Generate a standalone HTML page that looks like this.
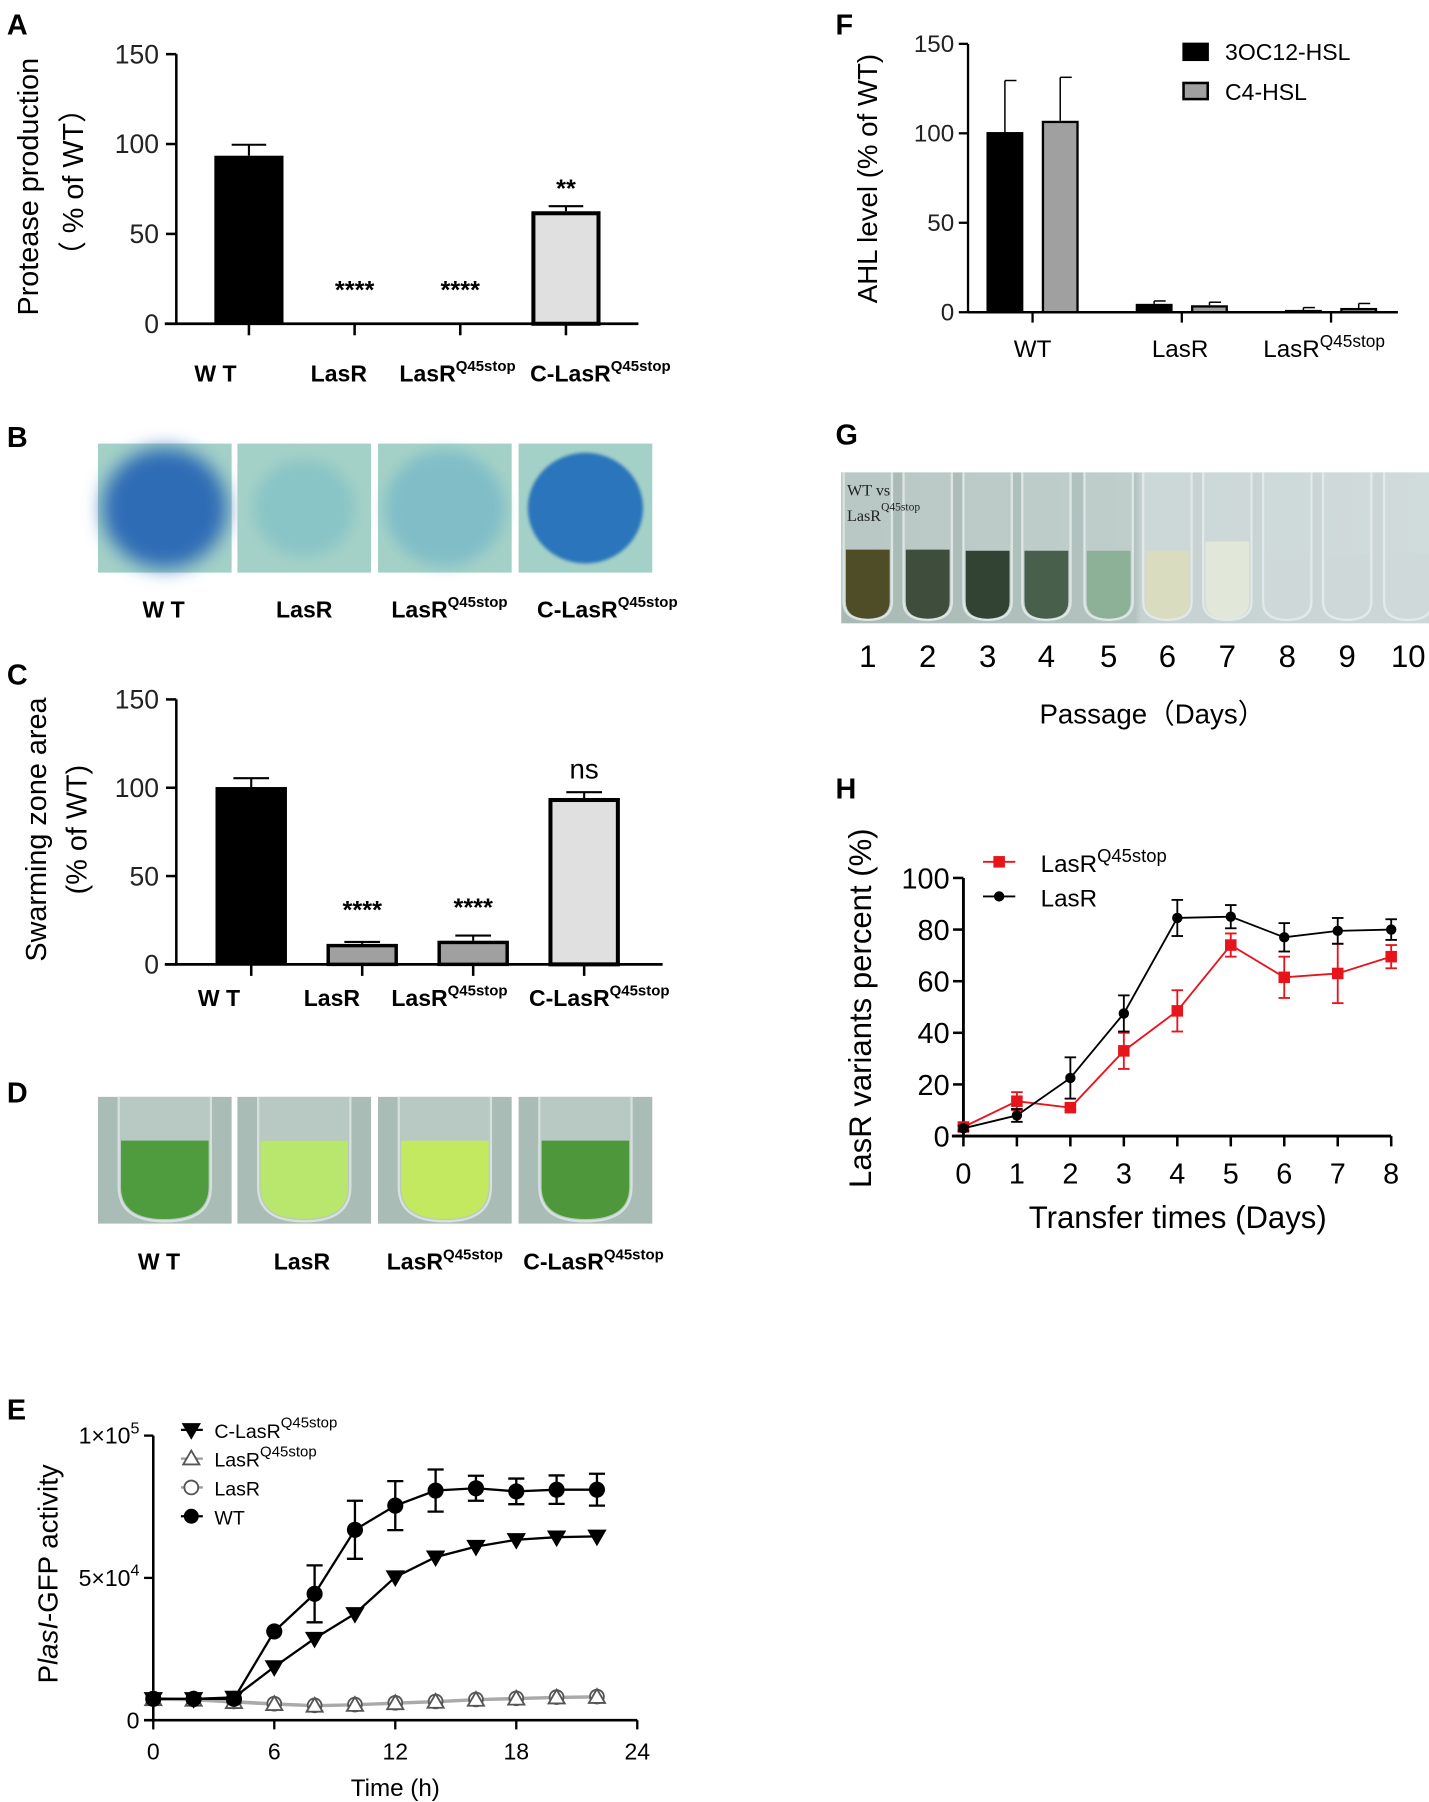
<!DOCTYPE html>
<html><head><meta charset="utf-8"><style>
html,body{margin:0;padding:0;background:#fff;}
svg{display:block;font-family:"Liberation Sans","Noto Sans CJK SC",sans-serif;}
</style></head><body>
<svg id="fig" xmlns="http://www.w3.org/2000/svg" width="1429" height="1802" viewBox="0 0 1240 1564" preserveAspectRatio="none">
<defs>
<filter id="blur6" x="-30%" y="-30%" width="160%" height="160%"><feGaussianBlur stdDeviation="6"/></filter>
<filter id="blur8" x="-30%" y="-30%" width="160%" height="160%"><feGaussianBlur stdDeviation="8"/></filter>
<filter id="blur2"><feGaussianBlur stdDeviation="1.5"/></filter>
<linearGradient id="gphoto" x1="0" x2="1" y1="0" y2="0"><stop offset="0" stop-color="#a9bab5"/><stop offset="0.5" stop-color="#b3c3bf"/><stop offset="0.51" stop-color="#c6d1d1"/><stop offset="1" stop-color="#cdd7d8"/></linearGradient>
</defs>
</svg>
<script>
// ---------- DATA ----------
const aCats=['WT','LasR','LasRQ45stop','C-LasRQ45stop'];
const aVals=[93.5,0,0,62.6];
const aErr=[99.6,0,0,65.4];
const aSig=['','****','****','**'];
const aTicks=[0,50,100,150];

const cVals=[100.4,11.6,13.4,94.2];
const cErr=[105.4,12.7,16.3,97.5];
const cSig=['','****','****','ns'];
const cTicks=[0,50,100,150];

const fCats=['WT','LasR','LasRQ45stop'];
const f3oc12=[100.7,4.7,1.3];
const f3oc12Err=[129.5,6.3,2.6];
const fC4=[107,3.9,2.4];
const fC4Err=[131.3,5.6,4.9];
const fTicks=[0,50,100,150];

const eTimes=[0,2,4,6,8,10,12,14,16,18,20,22];
const eWT=[7500,7500,7500,31200,44400,66900,75400,80700,81500,80400,81000,81000];
const eWTErr=[0,0,0,0,10000,10200,8600,7400,4400,4500,5000,5600];
const eCLasR=[7500,7500,8000,18700,28700,37400,50300,57300,61000,63400,64300,64600];
const eLasRQ=[7300,7100,6300,5600,5000,5300,5900,6400,7100,7500,7900,8100];
const eLasR=[7600,7300,6600,5800,5200,5500,6100,6600,7300,7700,8100,8300];
const eXTicks=[0,6,12,18,24];

const hDays=[0,1,2,3,4,5,6,7,8];
const hLasR=[3,8,22.5,47.5,84.5,85,77,79.5,80];
const hLasRErr=[1,2.5,8,7,7,4.5,5.5,5,4];
const hQ45=[3.5,13.5,11,33,48.5,74,61.5,63,69.5];
const hQ45Err=[1,3.5,1,7,8,4.5,8,11.5,4.5];
const hYTicks=[0,20,40,60,80,100];

const gPassage=[1,2,3,4,5,6,7,8,9,10];

// ---------- HELPERS ----------
const NS='http://www.w3.org/2000/svg';
const svg=document.getElementById('fig');
function mk(tag,attrs,parent){const e=document.createElementNS(NS,tag);for(const k in attrs)e.setAttribute(k,attrs[k]);(parent||svg).appendChild(e);return e;}
function txt(s,attrs,parent){const t=mk('text',attrs,parent);t.textContent=s;return t;}
function supLabel(base,sup,attrs,supSize,parent){
  const t=mk('text',attrs,parent);
  const a=mk('tspan',{},t);a.textContent=base;
  if(sup){const b=mk('tspan',{'font-size':supSize,dy:-9},t);b.textContent=sup;}
  return t;
}
function splitCat(c){const i=c.indexOf('Q45stop');return i>=0?[c.slice(0,i),'Q45stop']:[c.replace('WT','W T'),''];}
function panelLetter(ch,x,y){const t=txt(ch,{x:x,y:y,'font-size':25,'font-weight':'bold'});

}

// ---------- GENERIC BAR PANEL ----------
function barPanel(id,o,vals,errs,sigs,ticks){
  const g=mk('g',{});
  
  
  const Y=v=>o.y0-v*o.k;
  const X=i=>o.tick0+i*o.step;
  const ya=mk('line',{x1:o.ax,y1:Y(ticks[ticks.length-1]),x2:o.ax,y2:o.y0,stroke:'#000','stroke-width':2.2},g);
  
  
  ticks.forEach(t=>{
    mk('line',{x1:o.ax-9,y1:Y(t),x2:o.ax,y2:Y(t),stroke:'#000','stroke-width':2.2},g);
    const tl=txt(String(t),{x:o.ax-15,y:Y(t)+8,'font-size':23,'text-anchor':'end',fill:'#222'},g);
    
    
  });
  vals.forEach((v,i)=>{
    const cx=X(i);
    mk('line',{x1:cx,y1:o.y0,x2:cx,y2:o.y0+10,stroke:'#000','stroke-width':2.2},g);
    if(errs[i]>v){
      mk('line',{x1:cx,y1:Y(v),x2:cx,y2:Y(errs[i]),stroke:'#000','stroke-width':1.8},g);
      mk('line',{x1:cx-o.barW*0.25,y1:Y(errs[i]),x2:cx+o.barW*0.25,y2:Y(errs[i]),stroke:'#000','stroke-width':1.8},g);
    }
    if(v>0){
      const sw=o.strokes[i];
      const b=mk('rect',{x:cx-o.barW/2+sw/2,y:Y(v)+sw/2,width:o.barW-sw,height:Math.max(0,v*o.k-sw/2),fill:o.fills[i],stroke:'#000','stroke-width':sw},g);
      
      
    }
    if(sigs[i]){
      const by=sigs[i]==='ns'?Y(errs[i])-12:Math.min(Y(errs[i])-o.starOff,o.y0-o.starMin);
      const s=txt(sigs[i],{x:cx,y:by,'font-size':sigs[i]==='ns'?24:22,'text-anchor':'middle','font-weight':sigs[i]==='ns'?'normal':'bold'},g);
      
      
    }
  });
  const xa=mk('line',{x1:o.ax-10,y1:o.y0,x2:o.xEnd,y2:o.y0,stroke:'#000','stroke-width':2.4},g);
  
  
  aCats.forEach((c,i)=>{
    const p=splitCat(c);
    const l=supLabel(p[0],p[1],{x:o.labelX[i],y:o.labelY,'font-size':20,'font-weight':'bold','text-anchor':'middle'},13,g);
    
    
  });
  return g;
}

// ---------- PANEL A ----------
panelLetter('A',6,30);
barPanel('protease-chart',{ax:153,y0:281,k:1.56,xEnd:554,tick0:216,step:91.7,barW:60,
  fills:['#000','#999','#999','#e0e0e0'],strokes:[2,3,3,3.5],starOff:8,starMin:22,
  labelX:[187,294,397,521],labelY:331},aVals,aErr,aSig,aTicks);
{const t=txt('Protease production',{x:0,y:0,'font-size':25,'text-anchor':'middle',transform:'translate(33,162) rotate(-90)'});


const t2=txt('（ % of WT）',{x:0,y:0,'font-size':25,'text-anchor':'middle',transform:'translate(72,158) rotate(-90)'});

}

// ---------- PANEL B ----------
panelLetter('B',6,388);
const bTiles=[85,206,328,450];
const bSpots=[{c:'#2d6cb6',r:54,b:2,o:1},{c:'#7fbfc6',r:44,b:1,o:0.7},{c:'#74b7c8',r:52,b:1,o:0.75},{c:'#2c74bb',r:50,b:0,o:1}];
const gB=mk('g',{});


bTiles.forEach((x,i)=>{
  mk('rect',{x:x,y:385,width:116,height:112,fill:'#a4d1c7'},gB);
  const s=bSpots[i];
  const c=mk('ellipse',{cx:x+58,cy:441,rx:s.r,ry:s.r-2,fill:s.c,opacity:s.o,filter:s.b===2?'url(#blur8)':(s.b?'url(#blur6)':'url(#blur2)')},gB);
  
  
  const p=splitCat(aCats[i]);
  const l=supLabel(p[0],p[1],{x:[142,264,390,527][i],y:536,'font-size':20,'font-weight':'bold','text-anchor':'middle'},13,gB);
  
  
});

// ---------- PANEL C ----------
panelLetter('C',6,594);
barPanel('swarming-chart',{ax:153,y0:837,k:1.533,xEnd:575,tick0:218,step:96.3,barW:62,
  fills:['#000','#a0a0a0','#a0a0a0','#e0e0e0'],strokes:[2,3,3,3.5],starOff:17,starMin:40,
  labelX:[190,288,390,520],labelY:873},cVals,cErr,cSig,cTicks);
{const t=txt('Swarming zone area',{x:0,y:0,'font-size':25,'text-anchor':'middle',transform:'translate(40,720) rotate(-90)'});


const t2=txt('(% of WT)',{x:0,y:0,'font-size':25,'text-anchor':'middle',transform:'translate(75,720) rotate(-90)'});

}

// ---------- PANEL D ----------
panelLetter('D',6,957);
const dLiquid=['#4f9c3e','#b9e66c','#c2e95f','#4e983b'];
const gD=mk('g',{});


bTiles.forEach((x,i)=>{
  mk('rect',{x:x,y:952,width:116,height:110,fill:'#a9bcb5'},gD);
  const cx=x+58,w=40;
  mk('path',{d:`M${cx-w} 952 L${cx-w} 1030 Q${cx-w} 1060 ${cx} 1060 Q${cx+w} 1060 ${cx+w} 1030 L${cx+w} 952`,fill:'#b8c8c2',stroke:'#d6e0dc','stroke-width':2},gD);
  const liq=mk('path',{d:`M${cx-w+2} 990 L${cx-w+2} 1030 Q${cx-w+2} 1058 ${cx} 1058 Q${cx+w-2} 1058 ${cx+w-2} 1030 L${cx+w-2} 990 Z`,fill:dLiquid[i]},gD);
  
  
  const p=splitCat(aCats[i]);
  const l=supLabel(p[0],p[1],{x:[138,262,386,515][i],y:1102,'font-size':20,'font-weight':'bold','text-anchor':'middle'},13,gD);
  
  
});

// ---------- PANEL E ----------
panelLetter('E',6,1232);
(function(){
  const g=mk('g',{});
  
  
  const ax=133,y0=1493,kY=247/100000,kX=17.5;
  const X=t=>ax+t*kX, Y=v=>y0-v*kY;
  mk('line',{x1:ax,y1:Y(100000),x2:ax,y2:y0,stroke:'#000','stroke-width':2.2},g);
  mk('line',{x1:ax-8,y1:y0,x2:X(24),y2:y0,stroke:'#000','stroke-width':2.2},g);
  [[0,'0',''],[50000,'5×10','4'],[100000,'1×10','5']].forEach(d=>{
    mk('line',{x1:ax-8,y1:Y(d[0]),x2:ax,y2:Y(d[0]),stroke:'#000','stroke-width':2});
    const t=supLabel(d[1],d[2],{x:ax-12,y:Y(d[0])+7,'font-size':20,'text-anchor':'end'},14,g);
    
    
  });
  eXTicks.forEach(t=>{
    mk('line',{x1:X(t),y1:y0,x2:X(t),y2:y0+8,stroke:'#000','stroke-width':2},g);
    const l=txt(String(t),{x:X(t),y:1527,'font-size':20,'text-anchor':'middle'},g);
    
    
  });
  const xt=txt('Time (h)',{x:343,y:1559,'font-size':21,'text-anchor':'middle'},g);
  
  
  const yt=mk('text',{x:0,y:0,'font-size':24,'text-anchor':'middle',transform:'translate(50,1366) rotate(-90)'},g);
  
  
  const s1=mk('tspan',{},yt);s1.textContent='P';
  const s2=mk('tspan',{'font-style':'italic'},yt);s2.textContent='lasI';
  const s3=mk('tspan',{},yt);s3.textContent='-GFP activity';
  function line(vals,col,w){return mk('polyline',{points:eTimes.map((t,i)=>X(t)+','+Y(vals[i])).join(' '),fill:'none',stroke:col,'stroke-width':w},g);}
  const tri=(x,y,up,fill,stroke)=>mk('path',{d:up?`M${x} ${y-7} L${x+7} ${y+5} L${x-7} ${y+5} Z`:`M${x} ${y+7} L${x+7} ${y-5} L${x-7} ${y-5} Z`,fill:fill,stroke:stroke,'stroke-width':1.6},g);
  const l1=line(eLasR,'#aaa',2.5);
  
  
  const l2=line(eLasRQ,'#aaa',2.5);
  
  
  eTimes.forEach((t,i)=>{mk('circle',{cx:X(t),cy:Y(eLasR[i]),r:6,fill:'#fff',stroke:'#555','stroke-width':1.6},g);tri(X(t),Y(eLasRQ[i]),true,'#fff','#555');});
  const l3=line(eCLasR,'#000',2);
  
  
  eTimes.forEach((t,i)=>tri(X(t),Y(eCLasR[i]),false,'#000','#000'));
  const l4=line(eWT,'#000',2);
  
  
  eTimes.forEach((t,i)=>{
    if(eWTErr[i]>0){const x=X(t);
      mk('line',{x1:x,y1:Y(eWT[i]-eWTErr[i]),x2:x,y2:Y(eWT[i]+eWTErr[i]),stroke:'#000','stroke-width':2},g);
      [eWT[i]-eWTErr[i],eWT[i]+eWTErr[i]].forEach(v=>mk('line',{x1:x-7,y1:Y(v),x2:x+7,y2:Y(v),stroke:'#000','stroke-width':2},g));}
    mk('circle',{cx:X(t),cy:Y(eWT[i]),r:7,fill:'#000'},g);
  });
  const leg=[['C-LasR','Q45stop','dt'],['LasR','Q45stop','ut'],['LasR','','oc'],['WT','','fc']];
  leg.forEach((L,i)=>{
    const y=1241+i*25;
    mk('line',{x1:157,y1:y,x2:176,y2:y,stroke:L[2]==='ut'||L[2]==='oc'?'#999':'#000','stroke-width':2},g);
    if(L[2]==='dt')tri(166,y,false,'#000','#000');
    if(L[2]==='ut')tri(166,y,true,'#fff','#555');
    if(L[2]==='oc')mk('circle',{cx:166,cy:y,r:6,fill:'#fff',stroke:'#555','stroke-width':1.6},g);
    if(L[2]==='fc')mk('circle',{cx:166,cy:y,r:6.5,fill:'#000'},g);
    const t=supLabel(L[0],L[1],{x:186,y:y+7,'font-size':17},13,g);
    
    
  });
})();

// ---------- PANEL F ----------
panelLetter('F',725,30);
(function(){
  const g=mk('g',{});
  
  
  const ax=840,y0=271,k=1.553,tick0=896,step=129.5,bw=32,off=24;
  const Y=v=>y0-v*k;
  mk('line',{x1:ax,y1:Y(150),x2:ax,y2:y0,stroke:'#000','stroke-width':2},g);
  fTicks.forEach(t=>{
    mk('line',{x1:ax-8,y1:Y(t),x2:ax,y2:Y(t),stroke:'#000','stroke-width':2},g);
    const l=txt(String(t),{x:ax-12,y:Y(t)+7,'font-size':21,'text-anchor':'end',fill:'#222'},g);
    
    
  });
  function bar(cx,v,e,fill,name){
    mk('line',{x1:cx,y1:Y(v),x2:cx,y2:Y(e),stroke:'#000','stroke-width':1.3},g);
    mk('line',{x1:cx,y1:Y(e),x2:cx+10,y2:Y(e),stroke:'#000','stroke-width':1.3},g);
    const b=mk('rect',{x:cx-bw/2+1,y:Y(v)+1,width:bw-2,height:Math.max(0.5,v*k-1),fill:fill,stroke:'#000','stroke-width':2},g);
    
    
  }
  fCats.forEach((c,i)=>{
    const cx=tick0+i*step;
    bar(cx-off,f3oc12[i],f3oc12Err[i],'#000','bar-3oc12-hsl');
    bar(cx+off,fC4[i],fC4Err[i],'#a0a0a0','bar-c4-hsl');
    mk('line',{x1:cx,y1:y0,x2:cx,y2:y0+9,stroke:'#000','stroke-width':2},g);
    const p=c.indexOf('Q45')>=0?['LasR','Q45stop']:[c,''];
    const l=supLabel(p[0],p[1],{x:[896,1024,1149][i],y:310,'font-size':21,'text-anchor':'middle'},15,g);
    
    
  });
  mk('line',{x1:ax,y1:y0,x2:1213,y2:y0,stroke:'#000','stroke-width':2.2},g);
  const yt=txt('AHL level (% of WT)',{x:0,y:0,'font-size':24,'text-anchor':'middle',transform:'translate(761,155) rotate(-90)'},g);
  
  
  mk('rect',{x:1026,y:37,width:23,height:16,fill:'#000'},g);
  const t1=txt('3OC12-HSL',{x:1063,y:52,'font-size':20},g);
  
  
  mk('rect',{x:1027,y:72,width:21,height:14,fill:'#a0a0a0',stroke:'#000','stroke-width':2.2},g);
  const t2=txt('C4-HSL',{x:1063,y:87,'font-size':20},g);
  
  
})();

// ---------- PANEL G ----------
panelLetter('G',725,386);
(function(){
  const g=mk('g',{});
  
  
  mk('rect',{x:730,y:410,width:510,height:131,fill:'url(#gphoto)'},g);
  const liq=['#4f4c28','#3f4e3c','#324333','#475f4b','#8db196','#dadcc0','#e1e7d9','#cfd8d8','#cfd8d8','#d0d9d9'];
  const top=[477,477,478,478,478,478,470,480,482,480];
  const xs=[753,805,857,908,962,1013,1065,1117,1169,1222];
  gPassage.forEach((p,i)=>{
    const cx=xs[i],w=21;
    mk('path',{d:`M${cx-w} 410 L${cx-w} 522 Q${cx-w} 538 ${cx} 538 Q${cx+w} 538 ${cx+w} 522 L${cx+w} 410`,fill:'rgba(215,225,225,0.35)',stroke:'rgba(230,238,238,0.8)','stroke-width':2},g);
    const l=mk('path',{d:`M${cx-w+2} ${top[i]} L${cx-w+2} 522 Q${cx-w+2} 537 ${cx} 537 Q${cx+w-2} 537 ${cx+w-2} 522 L${cx+w-2} ${top[i]} Z`,fill:liq[i]},g);
    
    
    const n=txt(String(p),{x:cx,y:579,'font-size':27,'text-anchor':'middle'},g);
    
    
  });
  const a=txt('WT vs',{x:735,y:430,'font-size':14,'font-family':'Liberation Serif, serif',fill:'#222'},g);
  
  
  const b=supLabel('LasR','Q45stop',{x:735,y:452,'font-size':14,'font-family':'Liberation Serif, serif',fill:'#222'},10,g);
  
  
  const t=txt('Passage（Days）',{x:1000,y:628,'font-size':24,'text-anchor':'middle'},g);
  
  
})();

// ---------- PANEL H ----------
panelLetter('H',725,693);
(function(){
  const g=mk('g',{});
  
  
  const ax=836,y0=986,k=2.24,kx=46.4;
  const X=d=>ax+d*kx, Y=v=>y0-v*k;
  mk('line',{x1:ax,y1:Y(100),x2:ax,y2:y0,stroke:'#000','stroke-width':2.5},g);
  mk('line',{x1:ax-10,y1:y0,x2:X(8),y2:y0,stroke:'#000','stroke-width':2.5},g);
  hYTicks.forEach(t=>{
    mk('line',{x1:ax-9,y1:Y(t),x2:ax,y2:Y(t),stroke:'#000','stroke-width':2.2},g);
    const l=txt(String(t),{x:ax-12,y:Y(t)+9,'font-size':25,'text-anchor':'end'},g);
    
    
  });
  hDays.forEach(d=>{
    mk('line',{x1:X(d),y1:y0,x2:X(d),y2:y0+9,stroke:'#000','stroke-width':2.2},g);
    const l=txt(String(d),{x:X(d),y:1027,'font-size':25,'text-anchor':'middle'},g);
    
    
  });
  function series(vals,errs,col,name,marker){
    const pl=mk('polyline',{points:hDays.map((d,i)=>X(d)+','+Y(vals[i])).join(' '),fill:'none',stroke:col,'stroke-width':1.6},g);
    
    
    hDays.forEach((d,i)=>{
      const x=X(d);
      mk('line',{x1:x,y1:Y(vals[i]-errs[i]),x2:x,y2:Y(vals[i]+errs[i]),stroke:col,'stroke-width':1.6},g);
      [vals[i]-errs[i],vals[i]+errs[i]].forEach(v=>mk('line',{x1:x-5,y1:Y(v),x2:x+5,y2:Y(v),stroke:col,'stroke-width':1.6},g));
      if(marker==='sq')mk('rect',{x:x-5,y:Y(vals[i])-5,width:10,height:10,fill:col},g);
      else mk('circle',{cx:x,cy:Y(vals[i]),r:4.5,fill:col},g);
    });
  }
  series(hQ45,hQ45Err,'#e8141c','series-lasr-q45stop','sq');
  series(hLasR,hLasRErr,'#000','series-lasr','c');
  mk('line',{x1:853,y1:748,x2:881,y2:748,stroke:'#e8141c','stroke-width':1.6},g);
  mk('rect',{x:862,y:743,width:10,height:10,fill:'#e8141c'},g);
  const t1=supLabel('LasR','Q45stop',{x:903,y:757,'font-size':21},16,g);
  
  
  mk('line',{x1:853,y1:778,x2:881,y2:778,stroke:'#000','stroke-width':1.6},g);
  mk('circle',{cx:867,cy:778,r:4.5,fill:'#000'},g);
  const t2=txt('LasR',{x:903,y:787,'font-size':21},g);
  
  
  const yt=txt('LasR  variants percent (%)',{x:0,y:0,'font-size':27,'text-anchor':'middle',transform:'translate(756,875) rotate(-90)'},g);
  
  
  const xt=txt('Transfer times (Days)',{x:1022,y:1066,'font-size':27,'text-anchor':'middle'},g);
  
  
})();
</script>
</body></html>
